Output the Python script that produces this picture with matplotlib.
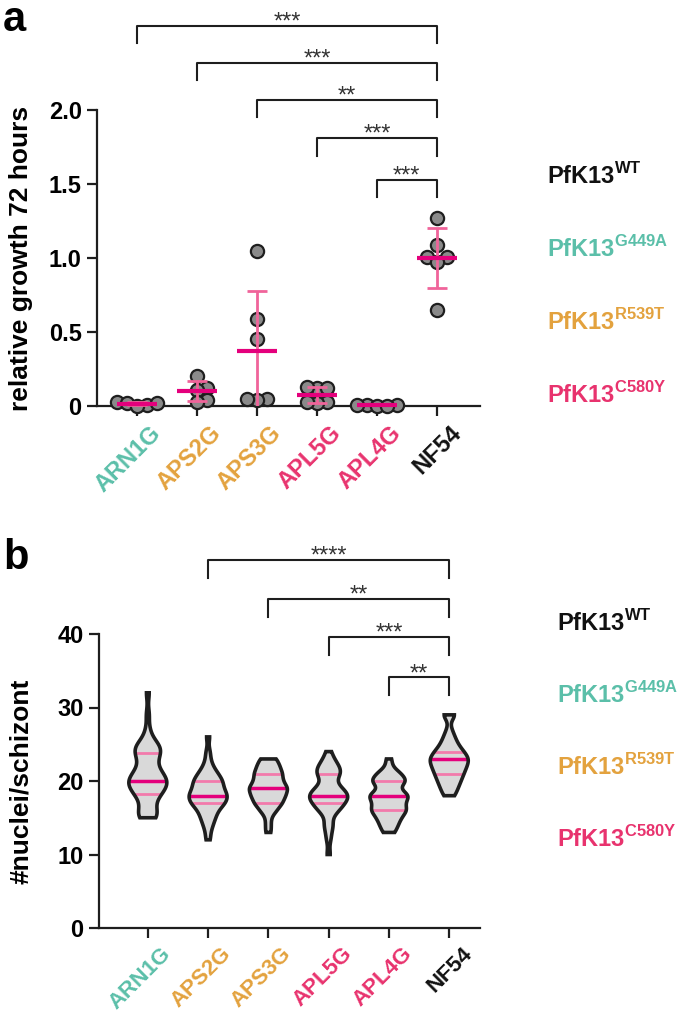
import numpy as np
import matplotlib.pyplot as plt
from matplotlib.patches import PathPatch
from matplotlib.transforms import ScaledTranslation

plt.rcParams['font.family'] = ['Liberation Sans', 'DejaVu Sans']
plt.rcParams['font.weight'] = 'bold'
plt.rcParams['mathtext.fontset'] = 'custom'
plt.rcParams['mathtext.bf'] = 'Liberation Sans:bold'
plt.rcParams['mathtext.rm'] = 'Liberation Sans:bold'

# ---- data ----
strains = ['ARN1G', 'APS2G', 'APS3G', 'APL5G', 'APL4G', 'NF54']
strain_colors = ['#5bbfa9', '#e3a23e', '#e3a23e', '#e8336e', '#e8336e', '#111111']
legend_tags = ['WT', 'G449A', 'R539T', 'C580Y']
legend_colors = ['#111111', '#5bbfa9', '#e3a23e', '#e8336e']

# panel a: relative growth after 72 h
arn1g_growth = [0.03, 0.01, 0.02, 0.00, 0.02]
aps2g_growth = [0.20, 0.12, 0.11, 0.04, 0.03]
aps3g_growth = [1.05, 0.59, 0.45, 0.05, 0.04, 0.05]
apl5g_growth = [0.12, 0.13, 0.12, 0.03, 0.02, 0.03]
apl4g_growth = [0.01, 0.00, 0.01, 0.00, 0.01]
nf54_growth = [1.27, 1.09, 1.01, 1.01, 0.97, 0.65]
growth = [arn1g_growth, aps2g_growth, aps3g_growth, apl5g_growth, apl4g_growth, nf54_growth]

sig_a_pairs = [(0, 5), (1, 5), (2, 5), (3, 5), (4, 5)]
sig_a_stars = ['***', '***', '**', '***', '***']
sig_a_levels = [2.57, 2.32, 2.07, 1.81, 1.53]

# panel b: nuclei per schizont (value -> number of schizonts)
arn1g_vals = [15, 16, 17, 18, 19, 20, 21, 22, 23, 24, 25, 26, 27, 29, 32]
arn1g_freq = [4, 3, 2, 4, 6, 7, 5, 3, 3, 5, 4, 1, 1, 1, 1]
aps2g_vals = [12, 13, 14, 15, 16, 17, 18, 19, 20, 21, 22, 23, 24, 26]
aps2g_freq = [1, 1, 2, 3, 4, 7, 8, 6, 6, 4, 2, 1, 1, 1]
aps3g_vals = [13, 14, 15, 16, 17, 18, 19, 20, 21, 22, 23]
aps3g_freq = [1, 1, 1, 3, 5, 6, 7, 5, 5, 4, 3]
apl5g_vals = [10, 12, 13, 14, 15, 16, 17, 18, 19, 20, 21, 22, 23, 24]
apl5g_freq = [1, 1, 1, 2, 1, 4, 6, 8, 5, 2, 5, 4, 2, 1]
apl4g_vals = [13, 14, 15, 16, 17, 18, 19, 20, 21, 22, 23]
apl4g_freq = [2, 3, 4, 6, 5, 7, 3, 6, 4, 1, 1]
nf54_vals = [18, 19, 20, 21, 22, 23, 24, 25, 26, 27, 29]
nf54_freq = [2, 3, 4, 5, 6, 7, 5, 3, 2, 1, 3]
nuclei = [np.repeat(arn1g_vals, arn1g_freq), np.repeat(aps2g_vals, aps2g_freq),
          np.repeat(aps3g_vals, aps3g_freq), np.repeat(apl5g_vals, apl5g_freq),
          np.repeat(apl4g_vals, apl4g_freq), np.repeat(nf54_vals, nf54_freq)]

sig_b_pairs = [(1, 5), (2, 5), (3, 5), (4, 5)]
sig_b_stars = ['****', '**', '***', '**']
sig_b_levels = [50.1, 44.8, 39.6, 34.1]

DARK = '#1e1e1e'
MEAN_C = '#e4007c'
ERR_C = '#f0649a'
QUART_C = '#f27aab'

fig = plt.figure(figsize=(6.8, 10.16), dpi=100)
W, H = 680, 1016
ax1 = fig.add_axes([97 / W, 1 - 406 / H, (480 - 97) / W, (406 - 110) / H])
ax2 = fig.add_axes([99 / W, 1 - 928 / H, (480 - 99) / W, (928 - 634) / H])


def style_axis(ax, xfs):
    for s in ['top', 'right']:
        ax.spines[s].set_visible(False)
    for s in ['left', 'bottom']:
        ax.spines[s].set_linewidth(1.6)
        ax.spines[s].set_color(DARK)
    ax.tick_params(width=1.6, length=7, color=DARK, labelsize=17, pad=4)
    ax.set_xticks(range(len(strains)))
    ax.set_xticklabels(strains, rotation=45, ha='right', rotation_mode='anchor',
                       fontsize=xfs, fontweight='bold')
    for lab, c in zip(ax.get_xticklabels(), strain_colors):
        lab.set_color(c)
        lab.set_transform(lab.get_transform() + ScaledTranslation(9 / 72, 0, fig.dpi_scale_trans))


def bracket(ax, x1, x2, y, drop, text):
    ax.plot([x1, x1, x2, x2], [y - drop, y, y, y - drop], color=DARK, lw=1.5, clip_on=False)
    ax.annotate(text, xy=((x1 + x2) / 2, y), xytext=(0, -2), textcoords='offset points',
                ha='center', va='baseline', fontsize=17, fontweight='normal', color='#333333',
                annotation_clip=False)


def swarm(ax, x0, vals, d, gap):
    # simple beeswarm in pixel space
    placed = []
    out = np.zeros(len(vals))
    for i in np.argsort(vals):
        px, py = ax.transData.transform((x0, vals[i]))
        cx = px
        for k in range(0, 30):
            found = False
            for s in ([0] if k == 0 else [k, -k]):
                c = px + s * d * 0.25
                if all((c - qx) ** 2 + (py - qy) ** 2 >= (gap * d) ** 2 for qx, qy in placed):
                    cx = c
                    found = True
                    break
            if found:
                break
        placed.append((cx, py))
        out[i] = ax.transData.inverted().transform((cx, py))[0]
    return out


# ---- panel a ----
ax1.set_xlim(-0.667, 5.72)
ax1.set_ylim(0, 2.0)
ax1.set_yticks([0, 0.5, 1.0, 1.5, 2.0])
ax1.set_yticklabels(['0', '0.5', '1.0', '1.5', '2.0'])
style_axis(ax1, 17)
ax1.set_ylabel('relative growth 72 hours', fontsize=19, fontweight='bold')
ax1.yaxis.set_label_coords(-0.167, 0.5)

for i, vals in enumerate(growth):
    vals = np.array(vals)
    xs = swarm(ax1, i, vals, 13.5, 0.7)
    ax1.plot(xs, vals, 'o', ms=9.5, mfc='#8a8a8a', mec=DARK, mew=1.6, clip_on=False, zorder=3)
    m = vals.mean()
    sd = vals.std(ddof=1)
    ax1.errorbar(i, m, yerr=sd, fmt='none', ecolor=ERR_C, elinewidth=2, capsize=7, capthick=2, zorder=4)
    ax1.hlines(m, i - 0.33, i + 0.33, color=MEAN_C, lw=3, zorder=5, clip_on=False)

for (a, b), st, lv in zip(sig_a_pairs, sig_a_stars, sig_a_levels):
    bracket(ax1, a, b, lv, 0.12, st)

# ---- panel b ----
ax2.set_xlim(-0.81, 5.51)
ax2.set_ylim(0, 40)
ax2.set_yticks([0, 10, 20, 30, 40])
style_axis(ax2, 16)
ax2.set_ylabel('#nuclei/schizont', fontsize=19, fontweight='bold')
ax2.yaxis.set_label_coords(-0.173, 0.5)

parts = ax2.violinplot(nuclei, positions=range(6), widths=0.63, showextrema=False,
                       bw_method=0.25, points=300)
for i, body in enumerate(parts['bodies']):
    body.set_facecolor('#d9d9d9')
    body.set_edgecolor('none')
    body.set_alpha(1)
    body.set_zorder(1)
    path = body.get_paths()[0]
    q1, med, q3 = np.percentile(nuclei[i], [25, 50, 75])
    ql = ax2.hlines([q1, q3], i - 0.4, i + 0.4, color=QUART_C, lw=2, zorder=2)
    ml = ax2.hlines(med, i - 0.4, i + 0.4, color=MEAN_C, lw=2.5, zorder=2)
    ql.set_clip_path(path, ax2.transData)
    ml.set_clip_path(path, ax2.transData)
    ax2.add_patch(PathPatch(path, fc='none', ec=DARK, lw=2.6, zorder=3))

for (a, b), st, lv in zip(sig_b_pairs, sig_b_stars, sig_b_levels):
    bracket(ax2, a, b, lv, 2.45, st)

# ---- panel letters and strain legend ----
fig.text(3 / W, 1 - 0 / H, 'a', fontsize=30, fontweight='bold', va='top', ha='left')
fig.text(3 / W, 1 - 538 / H, 'b', fontsize=30, fontweight='bold', va='top', ha='left')

for lx, ys in [(547, [176, 249, 322, 395]), (557, [623, 695, 767, 839])]:
    for tag, c, y in zip(legend_tags, legend_colors, ys):
        fig.text(lx / W, 1 - y / H, 'PfK13$^{\\mathbf{' + tag + '}}$', color=c,
                 fontsize=17, fontweight='bold', va='center', ha='left')

fig.savefig('out.png', dpi=100)
